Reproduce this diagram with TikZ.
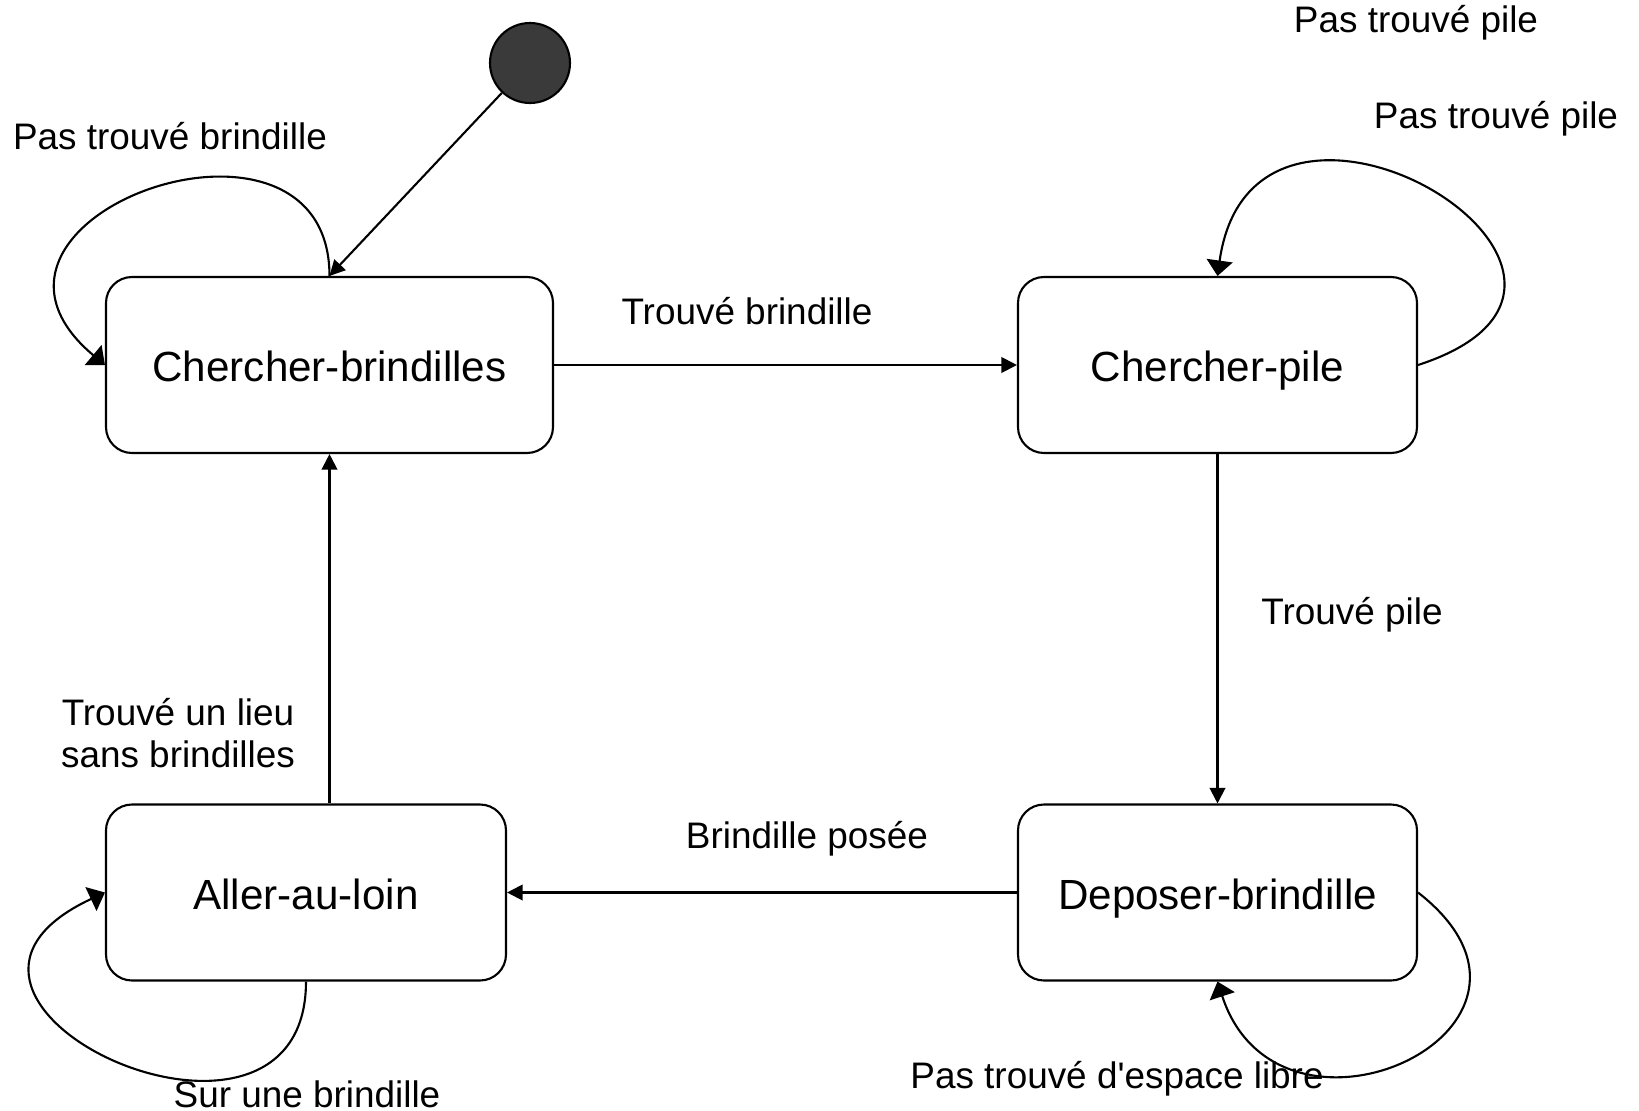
\documentclass[tikz,border=0pt]{standalone}
\usepackage{fontspec}
\setmainfont{Liberation Sans}[Ligatures=TeXOff]
\usetikzlibrary{arrows.meta}
\definecolor{initgray}{RGB}{58,58,58}

\begin{document}
\begin{tikzpicture}[>={Triangle[length=4.4pt,width=4.4pt]},line width=0.6pt,line join=round,
 state/.style={draw,rounded corners=0.26cm,minimum height=1.76cm,text height=0.95em,text depth=0pt,
   font=\fontsize{12}{14}\selectfont},
 selfloop/.style={-{Triangle[length=4.4pt,width=7.4pt]}},
 lbl/.style={font=\fontsize{10.5}{12}\selectfont,align=center}]
\useasboundingbox (0,0) rectangle (16.39,-11.11);
\node[circle,draw,fill=initgray,minimum size=0.8cm,inner sep=0pt] (init) at (5.30,-0.63) {};
\node[state,minimum width=4.47cm] (cb) at (3.295,-3.65) {Chercher-brindilles};
\node[state,minimum width=3.99cm] (cp) at (12.175,-3.65) {Chercher-pile};
\node[state,minimum width=3.99cm] (db) at (12.175,-8.925) {Deposer-brindille};
\node[state,minimum width=4.00cm] (al) at (3.06,-8.925) {Aller-au-loin};
\draw[->] (init) -- (cb.north);
\draw[->] (cb) -- (cp);
\draw[->] (cp) -- (db);
\draw[->] (db) -- (al);
\draw[->] (cb.south |- al.north) -- (cb.south);
% boucles
\draw[selfloop] (cb.north) .. controls +(90:2.0) and +(140:2.3) .. (cb.west);
\draw[selfloop] (cp.east) .. controls +(18:2.8) and +(82:2.6) .. (cp.north);
\draw[selfloop] (al.south) .. controls +(-90:2.2) and +(205:2.6) .. (al.west);
\draw[selfloop] (db.east) .. controls +(-38:2.2) and +(-72:2.0) .. (db.south);
% etiquettes
\node[lbl] (l1) at (14.16,-0.23) {Pas trouvé pile};
\node[lbl] (l2) at (14.96,-1.19) {Pas trouvé pile};
\node[lbl] (l3) at (1.70,-1.36) {Pas trouvé brindille};
\node[lbl] (l4) at (7.47,-3.11) {Trouvé brindille};
\node[lbl] (l5) at (13.52,-6.15) {Trouvé pile};
\node[lbl] (l6) at (1.78,-7.33) {Trouvé un lieu\\sans brindilles};
\node[lbl] (l7) at (8.07,-8.39) {Brindille posée};
\node[lbl] (l8) at (3.07,-10.94) {Sur une brindille};
\node[lbl] (l9) at (11.17,-10.79) {Pas trouvé d'espace libre};
\end{tikzpicture}
\end{document}
